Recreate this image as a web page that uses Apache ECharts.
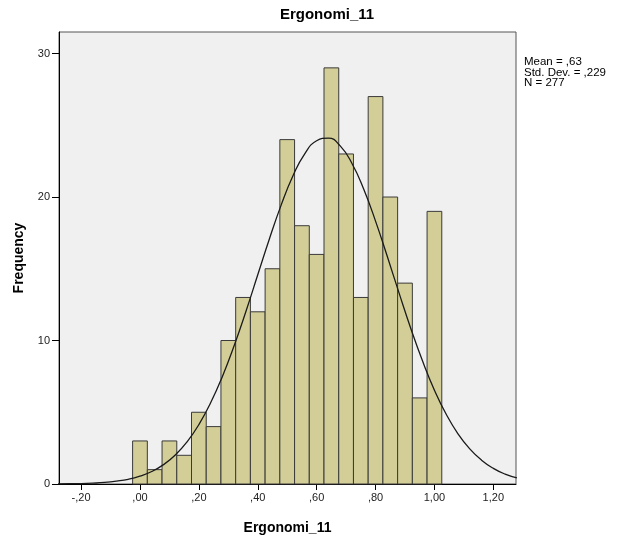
<!DOCTYPE html>
<html>
<head>
<meta charset="utf-8">
<script src="https://cdn.jsdelivr.net/npm/echarts@6/dist/echarts.min.js"></script>
<style>
html,body{margin:0;padding:0;background:#fff;}
#chart{width:617px;height:540px;}
</style>
</head>
<body>
<div id="chart"></div>
<script>
// ---- data ----
const chartTitle = 'Ergonomi_11';
const xAxisTitle = 'Ergonomi_11';
const yAxisTitle = 'Frequency';
const statsLines = ['Mean = ,63', 'Std. Dev. = ,229', 'N = 277'];
const binCenters = [0.00,0.05,0.10,0.15,0.20,0.25,0.30,0.35,0.40,0.45,0.50,0.55,0.60,0.65,0.70,0.75,0.80,0.85,0.90,0.95,1.00];
const binCounts  = [3,1,3,2,5,4,10,13,12,15,24,18,16,29,23,13,27,20,14,6,19];
const binWidth = 0.05;
const xTicks = [-0.2,0,0.2,0.4,0.6,0.8,1.0,1.2];
const yTicks = [0,10,20,30];
// normal curve
const curveX = [-0.28,-0.24,-0.20,-0.16,-0.12,-0.08,-0.04,0.00,0.04,0.08,0.12,0.16,0.20,0.24,0.28,0.32,0.36,0.40,0.44,0.48,0.52,0.56,0.60,0.64,0.68,0.72,0.76,0.80,0.84,0.88,0.92,0.96,1.00,1.04,1.08,1.12,1.16,1.20,1.24,1.28];
const curveY = [0.01,0.02,0.03,0.06,0.11,0.20,0.33,0.55,0.87,1.35,2.02,2.94,4.14,5.66,7.50,9.65,12.04,14.58,17.11,19.47,21.50,23.03,23.92,24.11,23.56,22.34,20.54,18.32,15.85,13.30,10.82,8.55,6.54,4.86,3.50,2.45,1.66,1.09,0.69,0.43];

const fmtX = v => {
  let s = Math.abs(v).toFixed(2).replace('.', ',');
  if (s.charAt(0) === '0') s = s.slice(1);
  return (v < 0 ? '-' : '') + s;
};

const chart = echarts.init(document.getElementById('chart'), null, {renderer:'canvas'});
const font = '"Liberation Sans", Arial, sans-serif';

chart.setOption({
  backgroundColor: '#ffffff',
  animation: false,
  grid: {
    left: 59, right: 101, top: 32, bottom: 53,
    show: true, backgroundColor: '#f0f0f0', borderColor: '#555555', borderWidth: 1
  },
  xAxis: {
    type: 'value', min: -0.275, max: 1.277,
    name: xAxisTitle, nameLocation: 'middle', nameGap: 37,
    nameTextStyle: {fontFamily: font, fontWeight: 'bold', fontSize: 14, color: '#000'},
    axisLine: {show: true, onZero: false, lineStyle: {color: '#000', width: 1}},
    axisTick: {show: true, length: 6, lineStyle: {color: '#000'}, customValues: xTicks},
    axisLabel: {customValues: xTicks, formatter: fmtX, fontFamily: font, fontSize: 11, color: '#222', margin: 8},
    splitLine: {show: false}
  },
  yAxis: {
    type: 'value', min: 0, max: 31.5,
    name: yAxisTitle, nameLocation: 'middle', nameGap: 33, nameRotate: 90,
    nameTextStyle: {fontFamily: font, fontWeight: 'bold', fontSize: 14, color: '#000'},
    axisLine: {show: true, onZero: false, lineStyle: {color: '#000', width: 1}},
    axisTick: {show: true, length: 7, lineStyle: {color: '#000'}, customValues: yTicks},
    axisLabel: {customValues: yTicks, fontFamily: font, fontSize: 11, color: '#222', margin: 9},
    splitLine: {show: false}
  },
  graphic: [
    {type: 'text', x: 327, y: 15, style: {text: chartTitle, font: 'bold 15px ' + font, fill: '#000', textAlign: 'center', textVerticalAlign: 'middle'}},
    {type: 'text', x: 524, y: 57, style: {text: statsLines.join('\n'), font: '11.5px ' + font, lineHeight: 10.5, fill: '#000'}}
  ],
  series: [
    {
      type: 'custom',
      data: binCenters.map((c, i) => [c, binCounts[i]]),
      renderItem: (params, api) => {
        const c = api.value(0), n = api.value(1);
        const p0 = api.coord([c - binWidth / 2, n]);
        const p1 = api.coord([c + binWidth / 2, 0]);
        return {type: 'rect', shape: {x: p0[0], y: p0[1], width: p1[0] - p0[0], height: p1[1] - p0[1]},
          style: {fill: '#d3ce97', stroke: '#3a3a3a', lineWidth: 1}};
      },
      z: 2
    },
    {
      type: 'line',
      data: curveX.map((x, i) => [x, curveY[i]]),
      smooth: true, showSymbol: false, clip: true,
      lineStyle: {color: '#1a1a1a', width: 1.3},
      z: 3
    }
  ]
});
</script>
</body>
</html>
